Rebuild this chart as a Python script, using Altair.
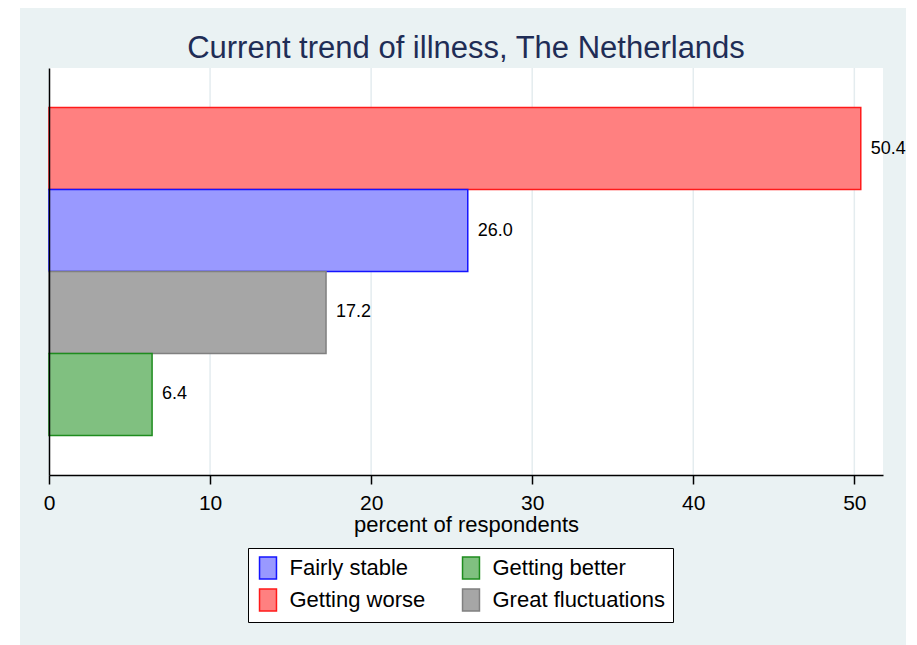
import altair as alt
import pandas as pd

# ---- data ----
categories = ["Getting worse", "Fairly stable", "Great fluctuations", "Getting better"]
values = [50.4, 26.0, 17.2, 6.4]
legend_order = ["Fairly stable", "Getting worse", "Getting better", "Great fluctuations"]
fill_colors = ["#9999FF", "#FF8080", "#80C080", "#A6A6A6"]
stroke_colors = ["#1414FF", "#FF1A1A", "#1E8C1E", "#808080"]
x_ticks = [0, 10, 20, 30, 40, 50]
grid_ticks = [10, 20, 30, 40, 50]
title_text = ["Current trend of illness, The Netherlands"]
x_title = "percent of respondents"

FONT = "Liberation Sans"
W, H = 834, 407
BG = "#EAF2F3"

df = pd.DataFrame({"trend": categories, "pct": values})
grid_df = pd.DataFrame({"t": grid_ticks})
title_df = pd.DataFrame({"title": title_text})
one = pd.DataFrame({"k": [0]})

x_scale = alt.Scale(domain=[0, 51.78], nice=False, zero=True)
y_scale = alt.Scale(domain=categories, paddingInner=0, paddingOuter=0.482)

X_AXIS = alt.Axis(
    values=x_ticks, title=x_title, grid=False, zindex=1,
    domainColor="black", domainWidth=1.5, tickColor="black", tickWidth=1.5, tickSize=9,
    labelFont=FONT, labelFontSize=21, labelColor="black", labelPadding=8,
    titleFont=FONT, titleFontSize=22, titleFontWeight="normal", titleColor="black",
    titlePadding=1, labelFlush=False,
)
Y_AXIS = alt.Axis(
    labels=False, ticks=False, title=None, grid=False, zindex=1,
    domainColor="black", domainWidth=1.5,
)

LEGEND = alt.Legend(
    title=None, orient="none", legendX=199, legendY=480, columns=2,
    fillColor="white", strokeColor="black", padding=8,
    labelFont=FONT, labelFontSize=22, labelColor="black", labelLimit=400,
    labelOffset=9.5, symbolType="M-0.77,-1H0.77V1H-0.77Z", symbolSize=484,
    symbolStrokeWidth=1.5, symbolOpacity=1, rowPadding=4, columnPadding=33,
)

fill_scale = alt.Scale(domain=legend_order, range=fill_colors)
stroke_scale = alt.Scale(domain=legend_order, range=stroke_colors)

outer = alt.Chart(one).mark_rect(color=BG).encode(
    x=alt.value(-29), x2=alt.value(W + 23), y=alt.value(-60), y2=alt.value(H + 176)
)
plot_bg = alt.Chart(one).mark_rect(color="white").encode(
    x=alt.value(0), x2=alt.value(W), y=alt.value(0), y2=alt.value(H)
)
title = alt.Chart(title_df).mark_text(
    align="center", baseline="alphabetic", font=FONT, fontSize=31, color="#1F2D56"
).encode(x=alt.value(W / 2), y=alt.value(-10), text="title:N")
grid = alt.Chart(grid_df).mark_rule(color="#E4ECEF", strokeWidth=1.5).encode(
    x=alt.X("t:Q", scale=x_scale, axis=X_AXIS)
)
bars = alt.Chart(df).mark_bar(strokeWidth=1.5, opacity=1).encode(
    x=alt.X("pct:Q", scale=x_scale, axis=X_AXIS),
    y=alt.Y("trend:N", scale=y_scale, axis=Y_AXIS),
    fill=alt.Fill("trend:N", scale=fill_scale, legend=LEGEND),
    stroke=alt.Stroke("trend:N", scale=stroke_scale, legend=LEGEND),
)
labels = alt.Chart(df).mark_text(
    align="left", baseline="middle", dx=10, font=FONT, fontSize=18, color="black"
).encode(
    x=alt.X("pct:Q", scale=x_scale, axis=X_AXIS),
    y=alt.Y("trend:N", scale=y_scale, axis=Y_AXIS),
    text=alt.Text("pct:Q", format=".1f"),
)

chart = alt.layer(outer, plot_bg, title, grid, bars, labels).properties(
    width=W, height=H,
    padding={"left": 12, "top": 0, "right": 0, "bottom": 0},
).configure(background="white").configure_view(strokeWidth=0)

chart.save("out.html", embed_options={"renderer": "svg", "actions": False})
